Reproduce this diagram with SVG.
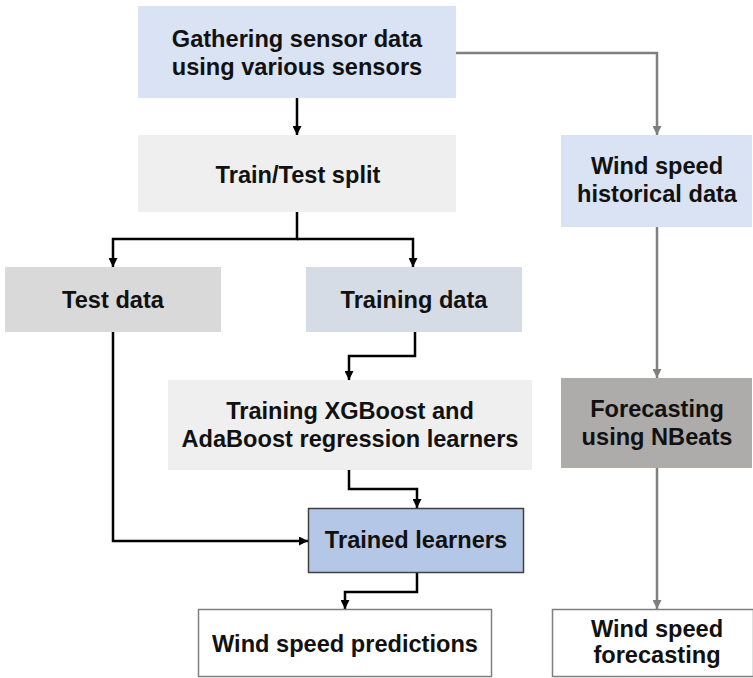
<svg xmlns="http://www.w3.org/2000/svg" width="753" height="678" viewBox="0 0 753 678">
<defs>
<marker id="ab" markerUnits="userSpaceOnUse" viewBox="0 0 10 10" refX="10" refY="5" markerWidth="10" markerHeight="9" orient="auto"><path d="M0,0 L10,5 L0,10 z" fill="#000"/></marker>
<marker id="ag" markerUnits="userSpaceOnUse" viewBox="0 0 10 10" refX="10" refY="5" markerWidth="10" markerHeight="9" orient="auto"><path d="M0,0 L10,5 L0,10 z" fill="#7f7f7f"/></marker>
</defs>
<style>
text{font-family:"Liberation Sans",Arial,sans-serif;font-weight:bold;font-size:23.6px;fill:#111;text-anchor:middle}
.b{fill:none;stroke:#000;stroke-width:2.5;marker-end:url(#ab)}
.g{fill:none;stroke:#7f7f7f;stroke-width:2.5;marker-end:url(#ag)}
</style>
<rect width="753" height="678" fill="#fff"/>
<g id="connectors">
<path class="b" d="M297,98 V135"/>
<path class="b" d="M297,212 V239 H113 V267"/>
<path class="b" d="M297,239 H413 V267"/>
<path class="b" d="M415,332 V356 H349 V380"/>
<path class="b" d="M113,332 V541 H308"/>
<path class="b" d="M349,470 V489 H417 V508"/>
<path class="b" d="M417,573 V592 H345 V609"/>
<path class="g" d="M456,53 H657 V135"/>
<path class="g" d="M657,227 V378"/>
<path class="g" d="M657,468 V609"/>
</g>
<g id="gathering"><rect x="138" y="6" width="318" height="92" fill="#dae3f3"/><text x="297" y="47">Gathering sensor data</text><text x="297" y="75">using various sensors</text></g>
<g id="split"><rect x="138" y="135" width="318" height="77" fill="#efefef"/><text x="298" y="183">Train/Test split</text></g>
<g id="testdata"><rect x="5" y="267" width="216" height="65" fill="#d9d9d9"/><text x="113" y="308">Test data</text></g>
<g id="trainingdata"><rect x="306" y="267" width="216" height="65" fill="#d6dce5"/><text x="414" y="308">Training data</text></g>
<g id="historical"><rect x="561" y="135" width="191" height="92" fill="#dae3f3"/><text x="657" y="174">Wind speed</text><text x="657" y="202">historical data</text></g>
<g id="xgboost"><rect x="168" y="380" width="364" height="90" fill="#efefef"/><text x="350" y="419">Training XGBoost and</text><text x="350" y="447">AdaBoost regression learners</text></g>
<g id="nbeats"><rect x="561" y="378" width="191" height="90" fill="#aeabab"/><text x="657" y="417">Forecasting</text><text x="657" y="445">using NBeats</text></g>
<g id="trained"><rect x="308.5" y="508.5" width="215" height="64" fill="#b4c7e7" stroke="#404040" stroke-width="1.5"/><text x="416" y="548">Trained learners</text></g>
<g id="predictions"><rect x="198.5" y="609.5" width="293" height="67" fill="#fff" stroke="#7f7f7f" stroke-width="1.5"/><text x="345" y="652">Wind speed predictions</text></g>
<g id="forecasting"><rect x="552.5" y="609.5" width="201" height="67" fill="#fff" stroke="#7f7f7f" stroke-width="1.5"/><text x="657" y="637">Wind speed</text><text x="657" y="663">forecasting</text></g>
</svg>
